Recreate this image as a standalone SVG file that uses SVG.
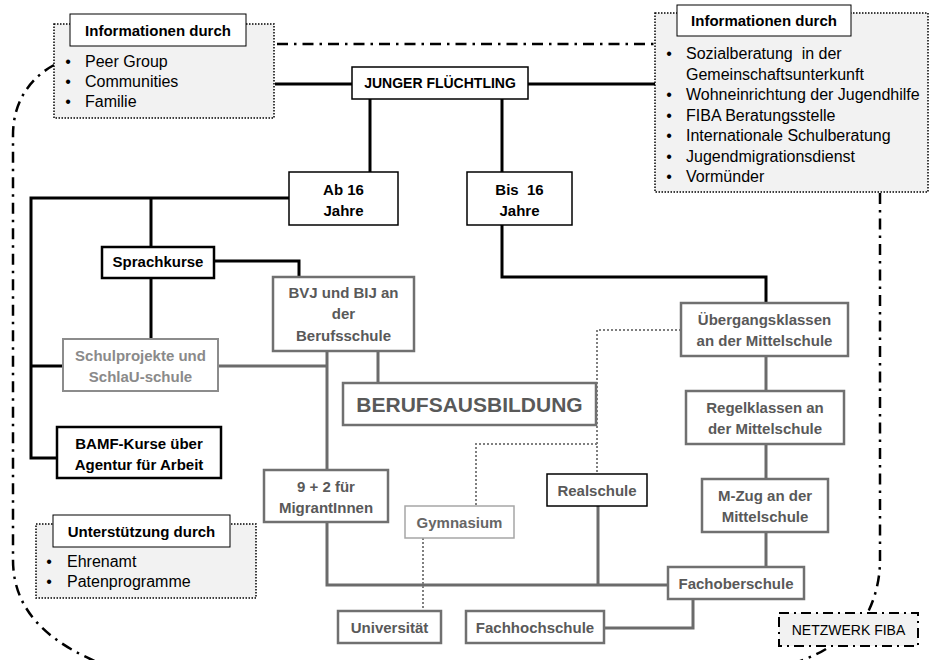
<svg xmlns="http://www.w3.org/2000/svg" width="931" height="660" viewBox="0 0 931 660">
<style>
text{font-family:"Liberation Sans",Arial,sans-serif}
.b{font-weight:bold;font-size:15px;text-anchor:middle}
.bk{fill:#000}
.gt{fill:#595959}
.lt{fill:#8a8a8a}
.reg{font-size:16px;fill:#000}
.blt{font-size:16px;fill:#000;text-anchor:middle}
.info{fill:#f2f2f2;stroke:#000;stroke-width:1.5;stroke-dasharray:1.5 1.5}
.title{fill:#fff;stroke:#000;stroke-width:1}
.kb{fill:#fff;stroke:#000;stroke-width:1.5}
.kb2{fill:#fff;stroke:#000;stroke-width:2.5}
.gb{fill:#fff;stroke:#707070;stroke-width:2.5}
.lb{fill:#fff;stroke:#8c8c8c;stroke-width:2}
.blk{fill:none;stroke:#000;stroke-width:3}
.gry{fill:none;stroke:#6b6b6b;stroke-width:3}
.dot{fill:none;stroke:#7f7f7f;stroke-width:2;stroke-dasharray:2 2}
.dd{fill:none;stroke:#000;stroke-width:2.5;stroke-dasharray:11 6 2.5 6}
</style>

<g id="connectors">
  <!-- network boundary -->
  <path class="dd" d="M277,44 H655"/>
  <path class="dd" d="M54,65 C32,77 13,100 13,135 V560 C13,612 50,645 112,668"/>
  <path class="dd" d="M880,193 V560 C880,580 875,598 868,612"/>
  <path class="dd" d="M826,649 C815,656 800,661 782,668"/>
  <!-- black -->
  <path class="blk" d="M275,84 H352"/>
  <path class="blk" d="M528,84 H657"/>
  <path class="blk" d="M370,99 V172"/>
  <path class="blk" d="M502,99 V172"/>
  <path class="blk" d="M502,225 V277 H766 V303"/>
  <path class="blk" d="M289,198 H31 V458 H57"/>
  <path class="blk" d="M151,198 V247"/>
  <path class="blk" d="M214,261 H299 V277"/>
  <path class="blk" d="M151,278 V339"/>
  <path class="blk" d="M31,366 H63"/>
  <!-- grey -->
  <path class="gry" d="M218,366 H327"/>
  <path class="gry" d="M327,351 V470"/>
  <path class="gry" d="M327,522 V585 H668"/>
  <path class="gry" d="M378,351 V383"/>
  <path class="gry" d="M598,506 V585"/>
  <path class="gry" d="M766,356 V391"/>
  <path class="gry" d="M766,444 V479"/>
  <path class="gry" d="M766,532 V567"/>
  <path class="gry" d="M604,628 H693 V599"/>
  <!-- dotted -->
  <path class="dot" d="M681,330 H597 V474"/>
  <path class="dot" d="M597,444 H476 V506"/>
  <path class="dot" d="M423,538 V611"/>
</g>

<g id="info-left">
  <rect class="info" x="54" y="24" width="220" height="94"/>
  <rect class="title" x="70" y="14" width="176" height="32"/>
  <text class="b bk" x="158" y="36">Informationen durch</text>
  <text class="blt" x="68" y="67">•</text><text class="reg" x="85" y="67">Peer Group</text>
  <text class="blt" x="68" y="87">•</text><text class="reg" x="85" y="87">Communities</text>
  <text class="blt" x="68" y="107">•</text><text class="reg" x="85" y="107">Familie</text>
</g>

<g id="info-right">
  <rect class="info" x="655" y="13" width="273" height="179"/>
  <rect class="title" x="677" y="5" width="174" height="31"/>
  <text class="b bk" x="764" y="26">Informationen durch</text>
  <text class="blt" x="669" y="59">•</text><text class="reg" x="686" y="59" xml:space="preserve">Sozialberatung  in der</text>
  <text class="reg" x="686" y="79.5">Gemeinschaftsunterkunft</text>
  <text class="blt" x="669" y="100">•</text><text class="reg" x="686" y="100">Wohneinrichtung der Jugendhilfe</text>
  <text class="blt" x="669" y="120.5">•</text><text class="reg" x="686" y="120.5">FIBA Beratungsstelle</text>
  <text class="blt" x="669" y="141">•</text><text class="reg" x="686" y="141">Internationale Schulberatung</text>
  <text class="blt" x="669" y="161.5">•</text><text class="reg" x="686" y="161.5">Jugendmigrationsdienst</text>
  <text class="blt" x="669" y="182">•</text><text class="reg" x="686" y="182">Vormünder</text>
</g>

<g id="junger">
  <rect class="kb" x="352" y="67" width="176" height="32"/>
  <text class="b bk" x="440" y="88" style="font-size:14px">JUNGER FLÜCHTLING</text>
</g>

<g id="ab16">
  <rect class="kb" x="289" y="172" width="109" height="53"/>
  <text class="b bk" x="343.5" y="195">Ab 16</text>
  <text class="b bk" x="343.5" y="216">Jahre</text>
</g>

<g id="bis16">
  <rect class="kb" x="467" y="172" width="105" height="53"/>
  <text class="b bk" x="519.5" y="195" xml:space="preserve">Bis  16</text>
  <text class="b bk" x="519.5" y="216">Jahre</text>
</g>

<g id="sprachkurse">
  <rect class="kb2" x="102" y="247" width="112" height="31"/>
  <text class="b bk" x="158" y="267">Sprachkurse</text>
</g>

<g id="bvj">
  <rect class="gb" x="273" y="277" width="141" height="74"/>
  <text class="b gt" x="343.5" y="298">BVJ und BIJ an</text>
  <text class="b gt" x="343.5" y="319">der</text>
  <text class="b gt" x="343.5" y="341">Berufsschule</text>
</g>

<g id="schulprojekte">
  <rect class="lb" x="63" y="339" width="155" height="52"/>
  <text class="b lt" x="140.5" y="361">Schulprojekte und</text>
  <text class="b lt" x="140.5" y="382">SchlaU-schule</text>
</g>

<g id="bamf">
  <rect class="kb2" x="57" y="427" width="164" height="51"/>
  <text class="b bk" x="139" y="449">BAMF-Kurse über</text>
  <text class="b bk" x="139" y="470">Agentur für Arbeit</text>
</g>

<g id="berufsausbildung">
  <rect class="gb" x="343" y="383" width="253" height="42"/>
  <text class="b gt" x="469.5" y="412" style="font-size:21px">BERUFSAUSBILDUNG</text>
</g>

<g id="uebergang">
  <rect class="gb" x="681" y="303" width="167" height="53"/>
  <text class="b gt" x="764.5" y="325">Übergangsklassen</text>
  <text class="b gt" x="764.5" y="346">an der Mittelschule</text>
</g>

<g id="regelklassen">
  <rect class="gb" x="686" y="391" width="158" height="53"/>
  <text class="b gt" x="765" y="413">Regelklassen an</text>
  <text class="b gt" x="765" y="434">der Mittelschule</text>
</g>

<g id="mzug">
  <rect class="gb" x="702" y="479" width="126" height="53"/>
  <text class="b gt" x="765" y="501">M-Zug an der</text>
  <text class="b gt" x="765" y="522">Mittelschule</text>
</g>

<g id="neunzwei">
  <rect class="gb" x="264" y="470" width="124" height="52"/>
  <text class="b gt" x="326" y="492">9 + 2 für</text>
  <text class="b gt" x="326" y="513">MigrantInnen</text>
</g>

<g id="realschule">
  <rect class="kb" x="547" y="474" width="100" height="32"/>
  <text class="b gt" x="597" y="495.5">Realschule</text>
</g>

<g id="gymnasium">
  <rect fill="#fff" stroke="#a6a6a6" stroke-width="1.5" x="405" y="506" width="109" height="32"/>
  <text class="b" fill="#666" x="459.5" y="527.5">Gymnasium</text>
</g>

<g id="fachoberschule">
  <rect class="gb" x="668" y="567" width="136" height="32"/>
  <text class="b gt" x="736" y="588.5">Fachoberschule</text>
</g>

<g id="universitaet">
  <rect class="gb" x="338" y="611" width="103" height="32"/>
  <text class="b gt" x="389.5" y="632.5">Universität</text>
</g>

<g id="fachhochschule">
  <rect class="gb" x="466" y="611" width="138" height="32"/>
  <text class="b gt" x="535" y="632.5">Fachhochschule</text>
</g>

<g id="unterstuetzung">
  <rect class="info" x="36" y="524" width="220" height="74"/>
  <rect class="title" x="53" y="515" width="177" height="32"/>
  <text class="b bk" x="141.5" y="537">Unterstützung durch</text>
  <text class="blt" x="49" y="567">•</text><text class="reg" x="67" y="567">Ehrenamt</text>
  <text class="blt" x="49" y="587">•</text><text class="reg" x="67" y="587">Patenprogramme</text>
</g>

<g id="netzwerk">
  <rect fill="#f2f2f2" stroke="#000" stroke-width="2" stroke-dasharray="10 5 2 5" x="779" y="613" width="139" height="33"/>
  <text x="848.5" y="635" style="font-size:14px;text-anchor:middle;fill:#000">NETZWERK FIBA</text>
</g>
</svg>
